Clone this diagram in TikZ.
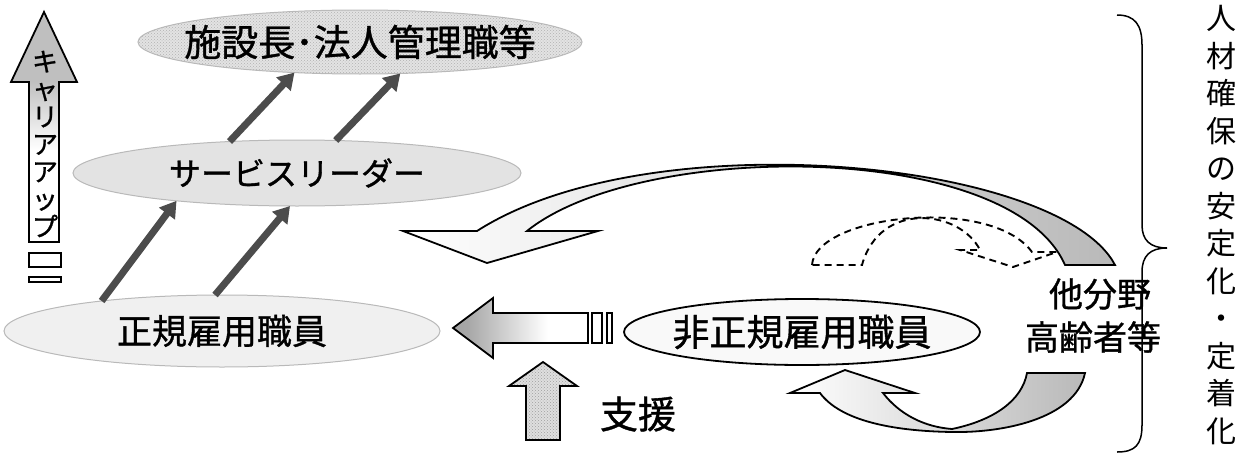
\documentclass[tikz,border=0pt]{standalone}
\usepackage{fontspec}
\setmainfont{Noto Sans CJK JP}
\newfontfamily\jpbold{Noto Sans CJK JP}[FakeBold=1.0]
\usetikzlibrary{arrows.meta,shapes.geometric,patterns}
\pgfdeclarehorizontalshading{bigarrowshade}{100bp}{color(0bp)=(gray!75); color(30bp)=(gray!70); color(60bp)=(white); color(100bp)=(white)}
\pgfdeclareverticalshading{careershade}{100bp}{color(0bp)=(white); color(45bp)=(white); color(60bp)=(gray!50); color(100bp)=(gray!50)}
\begin{document}
\begin{tikzpicture}[x=1pt,y=-1pt,
  jp/.style={font=\jpbold\fontsize{#1pt}{#1pt}\selectfont, inner sep=0pt, outer sep=0pt},
  vjp/.style 2 args={font=\fontsize{#1pt}{#2pt}\selectfont, align=center, inner sep=0pt, outer sep=0pt},
  ell/.style={ellipse, draw=gray!55, line width=1pt, inner sep=0pt, outer sep=0pt},
  uparr/.style={line width=7pt, draw=gray!60!black, -{Triangle[width=19pt,length=16pt]}},
  outl/.style={draw=black, line width=1.8pt, line join=miter},
  dsh/.style={draw=black, line width=1.9pt, dash pattern=on 7pt off 5pt}
]
\useasboundingbox (0,0) rectangle (1244,455);

% ellipses
\node[ell, preaction={fill=gray!22}, pattern=crosshatch dots, pattern color=gray!60, minimum width=444pt, minimum height=64pt] (top) at (360,42) {};
\node[jp=37] (toptxt) at (top.center) {施設長･法人管理職等};
\node[ell, fill=gray!22, minimum width=448pt, minimum height=66pt] (svc) at (297,173) {};
\node[jp=32] (svctxt) at (svc.center) {サービスリーダー};
\node[ell, fill=gray!12, minimum width=436pt, minimum height=72pt] (seiki) at (222,331) {};
\node[jp=35] (seikitxt) at (seiki.center) {正規雇用職員};
\node[ellipse, draw=black, line width=1.8pt, fill=gray!5, minimum width=356pt, minimum height=66pt, inner sep=0pt, outer sep=0pt] (hisei) at (802,332) {};
\node[jp=37] (hiseitxt) at (hisei.center) {非正規雇用職員};

% diagonal arrows
\draw[uparr] (seiki.166) -- (svc.193);
\draw[uparr] (seiki.101) -- (svc.258);
\draw[uparr] (svc.155) -- (top.205);
\draw[uparr] (svc.40) -- (top.322);

% career up arrow
\draw[outl, shade, shading=careershade] (44,12) -- (77,82) -- (59,82) -- (59,242) -- (29,242) -- (29,82) -- (11,82) -- cycle;
\draw[outl, fill=white] (29,253) rectangle (61,267);
\draw[outl, fill=white] (29,277) rectangle (61,282);
\node[vjp={26}{27.5}, font=\jpbold\fontsize{26pt}{27.5pt}\selectfont] (career) at (45,144) {キ\\ャ\\リ\\ア\\ア\\ッ\\プ};

% horizontal arrow
\draw[outl, shade, shading=bigarrowshade] (453,328) -- (493,298) -- (493,313) -- (588,313) -- (588,343) -- (493,343) -- (493,358) -- cycle;
\draw[outl, fill=white] (592,313) rectangle (602,343);
\draw[outl, fill=white] (607,313) rectangle (612,343);

% support arrow
\draw[outl, preaction={fill=gray!25}, pattern=crosshatch dots, pattern color=gray!75] (543,362) -- (577,386) -- (560,386) -- (560,440) -- (526,440) -- (526,386) -- (509,386) -- cycle;
\node[jp=38] (shien) at (638,414) {支援};

% big curved arrow
\draw[outl, left color=white, middle color=white, right color=gray!55] (1115,265) .. controls (1060,160) and (650,120) .. (477,231) -- (403,231) -- (487,263) -- (598,231) -- (527,231) .. controls (640,140) and (1010,140) .. (1065,265) -- cycle;

% small curved arrow
\draw[outl, left color=white, middle color=white, right color=gray!55] (1085,373) .. controls (1075,420) and (1000,433) .. (952,432) .. controls (890,431) and (840,420) .. (820,393) -- (790,393) -- (845,370) -- (915,393) -- (883,393) .. controls (900,415) and (925,427) .. (952,429) .. controls (995,420) and (1022,400) .. (1027,373) -- cycle;

% dashed arrow
\draw[dsh] (812,265) .. controls (815,215) and (990,195) .. (1032,252) -- (1057,252) -- (1013,267) -- (960,250) -- (980,250) .. controls (960,210) and (880,200) .. (862,265) -- cycle;

% other field text
\node[jp=34] (tabun) at (1100,294) {他分野};
\node[jp=34] (koure) at (1093,337) {高齢者等};

% brace
\draw[line width=1.5pt] (1117,15) .. controls (1135,15) and (1142,25) .. (1142,45) -- (1142,225) .. controls (1142,240) and (1150,248) .. (1167,248) .. controls (1150,248) and (1142,256) .. (1142,272) -- (1142,425) .. controls (1142,445) and (1135,452) .. (1117,452);

% side text
\node[vjp={30}{37.5}] (side) at (1221,225) {人\\材\\確\\保\\の\\安\\定\\化\\・\\定\\着\\化};
\end{tikzpicture}
\end{document}
